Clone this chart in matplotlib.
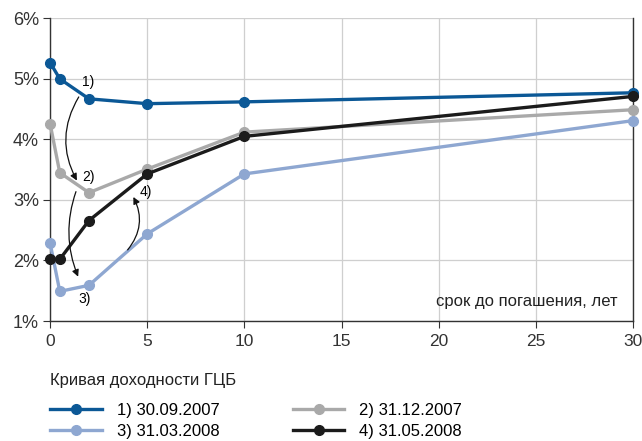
import matplotlib.pyplot as plt

plt.rcParams['font.family'] = ['Liberation Sans', 'DejaVu Sans']

# срок до погашения, лет
terms = [0, 0.5, 2, 5, 10, 30]

# доходность, %
y_sep07 = [5.27, 5.00, 4.67, 4.59, 4.62, 4.77]
y_dec07 = [4.26, 3.45, 3.12, 3.51, 4.12, 4.49]
y_mar08 = [2.29, 1.49, 1.59, 2.44, 3.43, 4.31]
y_may08 = [2.02, 2.02, 2.66, 3.43, 4.05, 4.71]

labels = ["1) 30.09.2007", "2) 31.12.2007", "3) 31.03.2008", "4) 31.05.2008"]
colors = ["#0b5896", "#a9a9a9", "#8ea7d1", "#1b1b1b"]

fig = plt.figure(figsize=(6.42, 4.41), dpi=100)
ax = fig.add_axes([0.078, 0.272, 0.908, 0.6865])

series = [y_sep07, y_dec07, y_mar08, y_may08]
handles = []
for ys, c, lab in zip(series, colors, labels):
    h, = ax.plot(terms, ys, color=c, lw=2.4, marker="o", ms=7, label=lab,
                 clip_on=False, zorder=3)
    handles.append(h)

ax.set_xlim(0, 30)
ax.set_ylim(1, 6)
ax.set_xticks([0, 5, 10, 15, 20, 25, 30])
ax.set_yticks([1, 2, 3, 4, 5, 6])
ax.set_yticklabels([f"{v}%" for v in range(1, 7)])
ax.grid(True, color="#cfcfcf", lw=0.9)
ax.set_axisbelow(True)
ax.spines["top"].set_visible(False)
for s in ["left", "bottom", "right"]:
    ax.spines[s].set_color("#333333")
    ax.spines[s].set_linewidth(1.0)
ax.tick_params(axis="both", direction="out", length=5, color="#333333")
ax.tick_params(axis="y", labelsize=13, pad=3, colors="#333333")
ax.tick_params(axis="x", labelsize=12.5, pad=4, colors="#333333")

ax.text(29.2, 1.33, "срок до погашения, лет", ha="right", va="center",
        fontsize=12, color="#222222")

# стрелки и подписи
arr = dict(arrowstyle="-|>", color="#111111", lw=0.9, mutation_scale=10)
ax.annotate("", xy=(1.45, 3.28), xytext=(1.55, 4.74),
            arrowprops=dict(connectionstyle="arc3,rad=0.3", **arr))
ax.annotate("", xy=(1.5, 1.69), xytext=(1.38, 3.18),
            arrowprops=dict(connectionstyle="arc3,rad=0.2", **arr))
ax.annotate("", xy=(4.22, 3.09), xytext=(3.9, 2.14),
            arrowprops=dict(connectionstyle="arc3,rad=0.35", **arr))
ax.text(1.95, 4.95, "1)", fontsize=10, ha="center", va="center")
ax.text(2.0, 3.38, "2)", fontsize=10, ha="center", va="center")
ax.text(1.8, 1.36, "3)", fontsize=10, ha="center", va="center")
ax.text(4.95, 3.13, "4)", fontsize=10, ha="center", va="center")

# легенда: ncol=2 заполняет по столбцам
order = [handles[0], handles[2], handles[1], handles[3]]
fig.legend(order, [h.get_label() for h in order], ncol=2,
           loc="upper left", bbox_to_anchor=(0.078, 0.086),
           frameon=False, fontsize=12, handlelength=3.1,
           columnspacing=4.4, handletextpad=0.9, labelspacing=0.35,
           borderaxespad=0, borderpad=0)
fig.text(0.078, 1 - 380 / 441, "Кривая доходности ГЦБ", fontsize=12,
         color="#222222", va="center")

fig.savefig("out.png", dpi=100)
